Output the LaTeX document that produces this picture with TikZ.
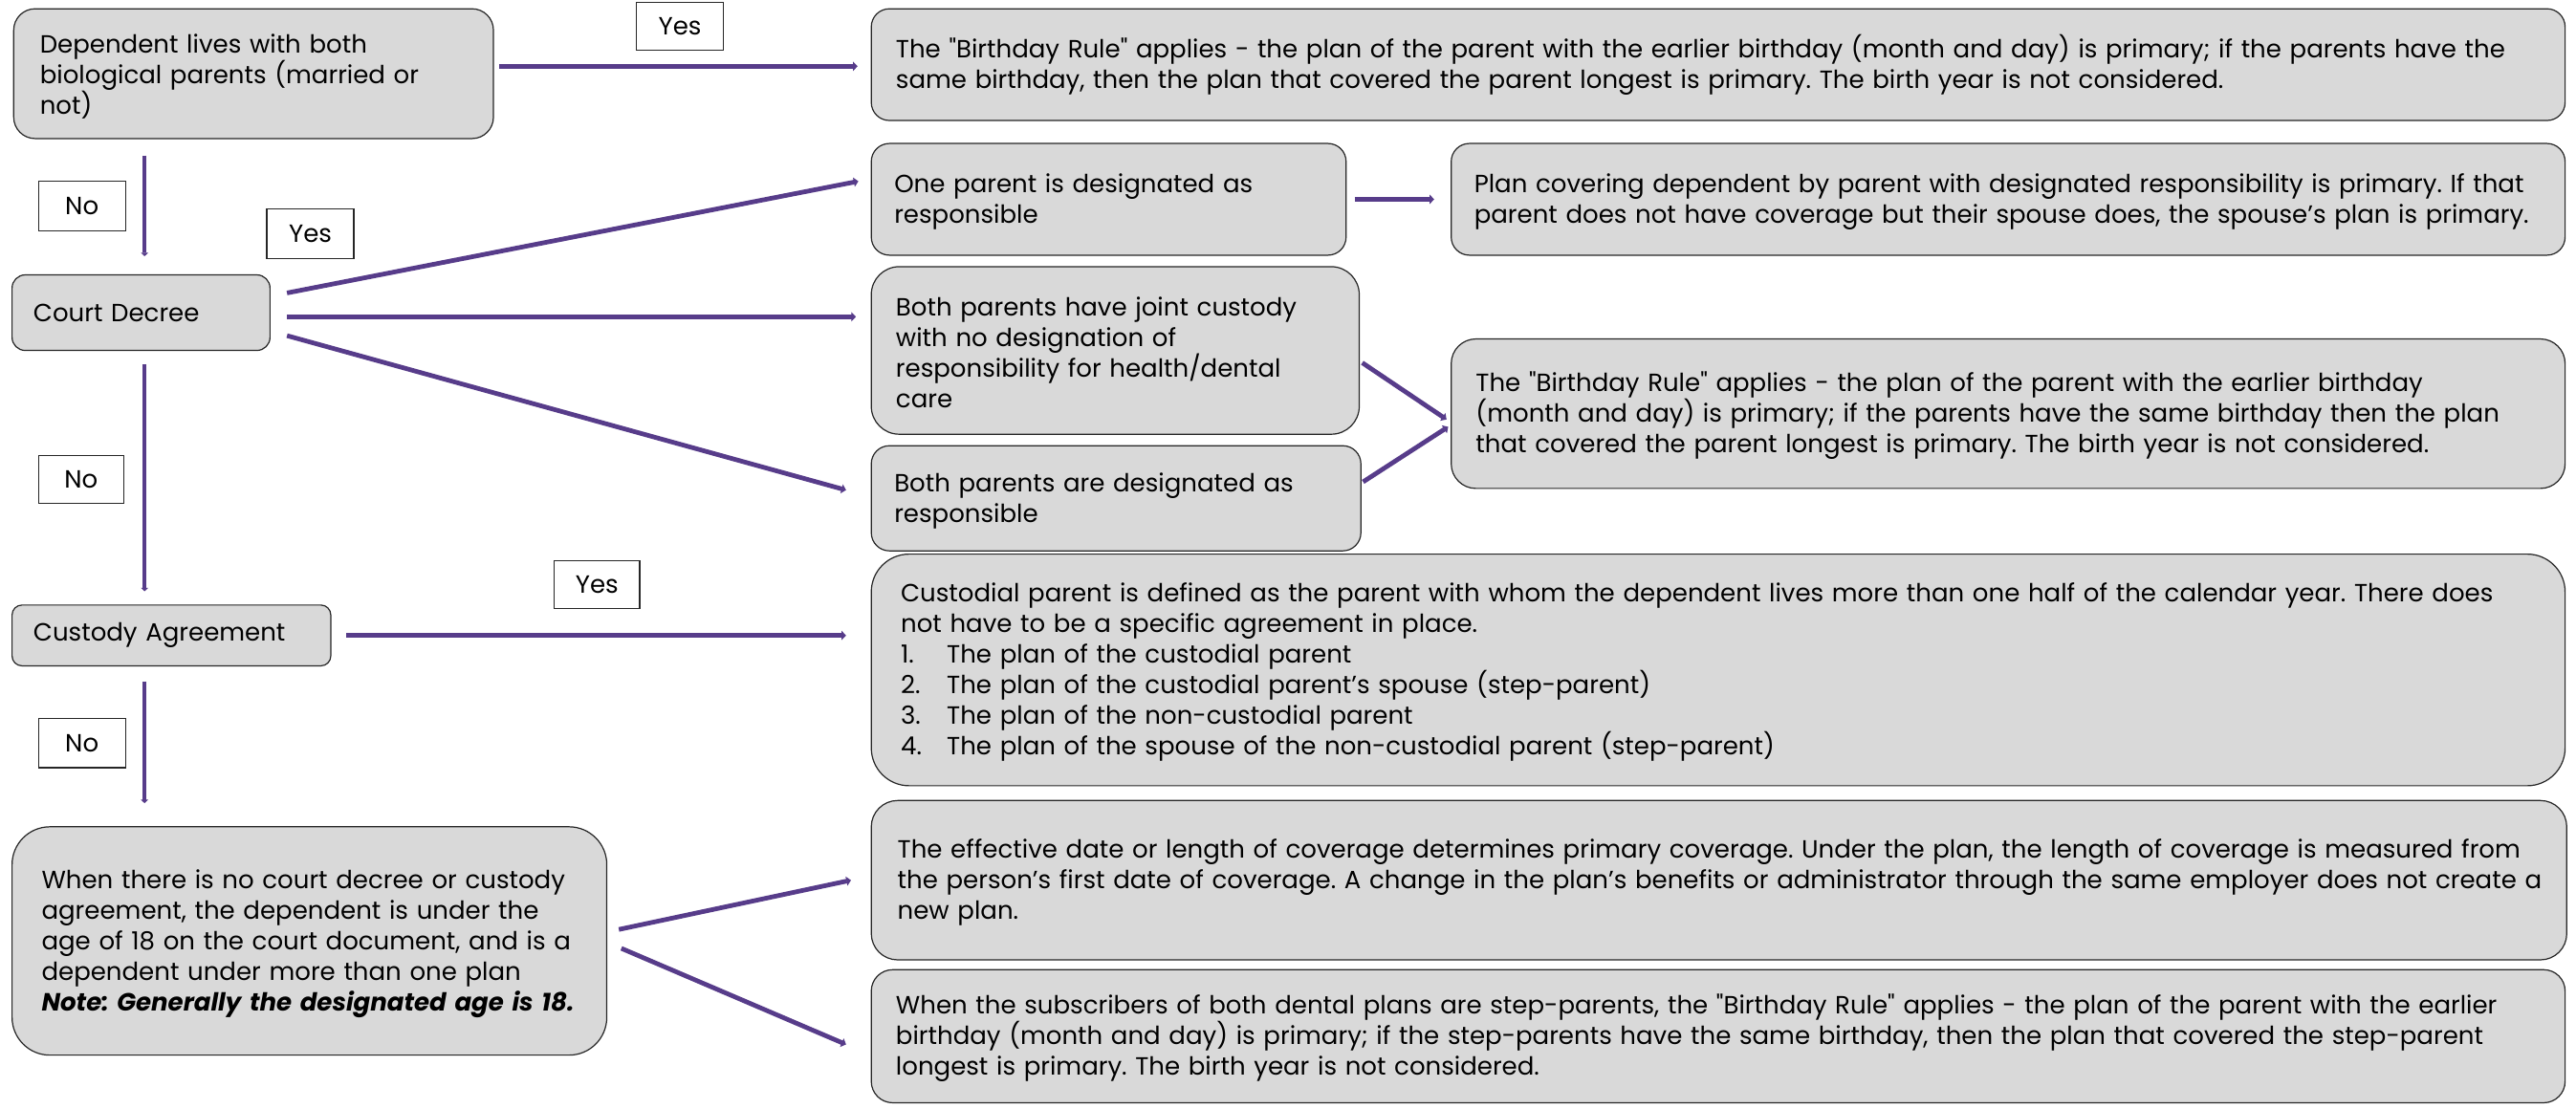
\documentclass[tikz,border=0pt]{standalone}
\usepackage{fontspec}
\setmainfont{Poppins}[Ligatures=TeXOff]
\usetikzlibrary{arrows.meta}
\definecolor{purp}{RGB}{87,60,138}
\definecolor{boxfill}{RGB}{217,217,217}
\newlength\reflen
\newcommand\oneline[1]{\mbox{#1}}
\begin{document}
\frenchspacing
\settowidth\reflen{\fontsize{10}{12}\selectfont The "Birthday Rule" applies - the plan of the parent with the earlier birthday (month and day) is primary; if the parents have the}
\pgfmathsetmacro\fsz{0.974*10*982/\reflen}
\begin{tikzpicture}[x=1pt,y=-1pt,
  every node/.style={font=\fontsize{\fsz}{18.6}\selectfont\frenchspacing, text=black},
  box/.style={draw=black!85, line width=0.7pt, fill=boxfill, anchor=north west, align=left, inner ysep=0pt},
  lowered/.style={execute at begin node={\rule{0pt}{14.5pt}}},
  tag/.style={draw=black!85, line width=0.75pt, fill=white, anchor=north west, inner sep=0pt, align=center},
  arr/.style={draw=purp, line width=2.8pt, -{Triangle[length=2.8pt,width=5.6pt]}},
  varr/.style={draw=purp, line width=2.1pt, -{Triangle[length=2.2pt,width=4.4pt]}},
]
\useasboundingbox (0,0) rectangle (1568,675);

% boxes
\node[box, lowered, minimum width=292pt, minimum height=79pt, text width=260pt, inner xsep=16pt, rounded corners=13pt] (A) at (8,5)
  {\oneline{Dependent lives with both}\\\oneline{biological parents (married or}\\\oneline{not)}};
\node[box, lowered, minimum width=1031pt, minimum height=68pt, text width=1001pt, inner xsep=15pt, rounded corners=11pt] (R1) at (530,5)
  {\oneline{The "Birthday Rule" applies - the plan of the parent with the earlier birthday (month and day) is primary; if the parents have the}\\\oneline{same birthday, then the plan that covered the parent longest is primary. The birth year is not considered.}};
\node[box, minimum width=157pt, minimum height=46pt, text width=131pt, inner xsep=13pt, rounded corners=8pt] (C) at (7,167)
  {\oneline{Court Decree}};
\node[box, lowered, minimum width=289pt, minimum height=68pt, text width=261pt, inner xsep=14pt, rounded corners=11pt] (P1) at (530,87)
  {\oneline{One parent is designated as}\\\oneline{responsible}};
\node[box, lowered, minimum width=678pt, minimum height=68pt, text width=650pt, inner xsep=14pt, rounded corners=11pt] (PL) at (883,87)
  {\oneline{Plan covering dependent by parent with designated responsibility is primary. If that}\\\oneline{parent does not have coverage but their spouse does, the spouse’s plan is primary.}};
\node[box, lowered, minimum width=297pt, minimum height=102pt, text width=267pt, inner xsep=15pt, rounded corners=17pt] (J) at (530,162)
  {\oneline{Both parents have joint custody}\\\oneline{with no designation of}\\\oneline{responsibility for health/dental}\\\oneline{care}};
\node[box, lowered, minimum width=298pt, minimum height=64pt, text width=270pt, inner xsep=14pt, rounded corners=11pt] (D) at (530,271)
  {\oneline{Both parents are designated as}\\\oneline{responsible}};
\node[box, lowered, minimum width=678pt, minimum height=91pt, text width=648pt, inner xsep=15pt, rounded corners=15pt] (R2) at (883,206)
  {\oneline{The "Birthday Rule" applies - the plan of the parent with the earlier birthday}\\\oneline{(month and day) is primary; if the parents have the same birthday then the plan}\\\oneline{that covered the parent longest is primary. The birth year is not considered.}};
\node[box, minimum width=194pt, minimum height=37pt, text width=168pt, inner xsep=13pt, rounded corners=6pt] (CA) at (7,368)
  {\oneline{Custody Agreement}};
\node[box, lowered, minimum width=1031pt, minimum height=141pt, text width=995pt, inner xsep=18pt, rounded corners=23pt] (R3) at (530,337)
  {\oneline{Custodial parent is defined as the parent with whom the dependent lives more than one half of the calendar year. There does}\\\oneline{not have to be a specific agreement in place.}\\\oneline{\makebox[28pt][l]{1.}The plan of the custodial parent}\\\oneline{\makebox[28pt][l]{2.}The plan of the custodial parent’s spouse (step-parent)}\\\oneline{\makebox[28pt][l]{3.}The plan of the non-custodial parent}\\\oneline{\makebox[28pt][l]{4.}The plan of the spouse of the non-custodial parent (step-parent)}};
\node[box, lowered, minimum width=362pt, minimum height=139pt, text width=326pt, inner xsep=18pt, rounded corners=23pt] (Wn) at (7,503)
  {\oneline{When there is no court decree or custody}\\\oneline{agreement, the dependent is under the}\\\oneline{age of 18 on the court document, and is a}\\\oneline{dependent under more than one plan}\\\oneline{\textbf{\textit{Note: Generally the designated age is 18.}}}};
\node[box, lowered, minimum width=1032pt, minimum height=97pt, text width=1000pt, inner xsep=16pt, rounded corners=16pt] (R4) at (530,487)
  {\oneline{The effective date or length of coverage determines primary coverage. Under the plan, the length of coverage is measured from}\\\oneline{the person’s first date of coverage. A change in the plan’s benefits or administrator through the same employer does not create a}\\\oneline{new plan.}};
\node[box, lowered, minimum width=1031pt, minimum height=81pt, text width=1001pt, inner xsep=15pt, rounded corners=13pt] (R5) at (530,590)
  {\oneline{When the subscribers of both dental plans are step-parents, the "Birthday Rule" applies - the plan of the parent with the earlier}\\\oneline{birthday (month and day) is primary; if the step-parents have the same birthday, then the plan that covered the step-parent}\\\oneline{longest is primary. The birth year is not considered.}};

% yes / no tags
\node[tag, minimum width=53pt, minimum height=29pt] (Y1) at (387,1) {Yes};
\node[tag, minimum width=53pt, minimum height=30pt] (N1) at (23,110) {No};
\node[tag, minimum width=53pt, minimum height=30pt] (Y2) at (162,127) {Yes};
\node[tag, minimum width=52pt, minimum height=29pt] (N2) at (23,277) {No};
\node[tag, minimum width=52pt, minimum height=29pt] (Y3) at (337,341) {Yes};
\node[tag, minimum width=53pt, minimum height=30pt] (N3) at (23,437) {No};

% connectors
\draw[arr] ([xshift=3pt,yshift=4.5pt]A.east) -- ([xshift=-8pt,yshift=-1pt]R1.west);
\draw[varr] ([xshift=80pt,yshift=-10pt]A.south west) -- ([xshift=81pt,yshift=11pt]C.north west);
\draw[arr] ([xshift=10pt,yshift=12pt]C.east) -- ([xshift=-7.5pt,yshift=11pt]P1.west);
\draw[arr] ([xshift=10pt,yshift=-2.5pt]C.east) -- ([xshift=-9pt,yshift=20.5pt]J.west);
\draw[arr] ([xshift=10pt,yshift=-14pt]C.east) -- ([xshift=-15pt,yshift=5pt]D.west);
\draw[arr] ([xshift=5pt]P1.east) -- ([xshift=-10pt]PL.west);
\draw[arr] ([xshift=1.5pt,yshift=-7.5pt]J.east) -- ([xshift=-2.5pt,yshift=-3.5pt]R2.west);
\draw[arr] ([xshift=1pt,yshift=10pt]D.east) -- ([xshift=-1.5pt,yshift=-8pt]R2.west);
\draw[varr] ([xshift=81pt,yshift=-8pt]C.south west) -- ([xshift=81pt,yshift=8pt]CA.north west);
\draw[arr] ([xshift=9pt]CA.east) -- ([xshift=-15pt,yshift=21pt]R3.west);
\draw[varr] ([xshift=81pt,yshift=-9pt]CA.south west) -- ([xshift=81pt,yshift=14pt]Wn.north west);
\draw[arr] ([xshift=7pt,yshift=7pt]Wn.east) -- ([xshift=-12pt]R4.west);
\draw[arr] ([xshift=8.5pt,yshift=-4.5pt]Wn.east) -- ([xshift=-15pt,yshift=-5pt]R5.west);
\end{tikzpicture}
\end{document}
